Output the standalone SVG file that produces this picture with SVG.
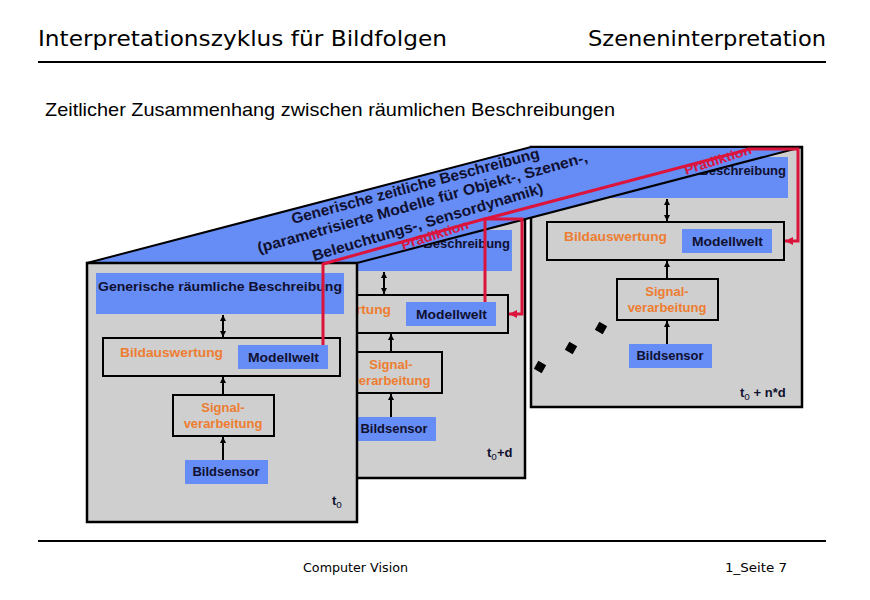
<svg xmlns="http://www.w3.org/2000/svg" width="870" height="600" viewBox="0 0 870 600">
<defs>
<style>
.panel{fill:#cfcfcf;stroke:#000;stroke-width:2.5}
.blue{fill:#668cf5}
.box{fill:#cfcfcf;stroke:#000;stroke-width:2}
.lbl{font-family:"Liberation Sans",Arial,sans-serif;font-weight:bold;font-size:13px;fill:#101030}
.or{fill:#ee7d31}
.band{fill:#668cf5;stroke:#000;stroke-width:2;stroke-linejoin:miter}
.bandtxt{font-family:"Liberation Sans",Arial,sans-serif;font-weight:bold;font-size:15px;fill:#101030}
.arr{stroke:#000;stroke-width:2;fill:none}
.red{stroke:#dc143c;stroke-width:3;fill:none;stroke-linejoin:miter}
.pred{font-family:"Liberation Sans",Arial,sans-serif;font-weight:bold;font-size:13px;fill:#dc143c}
.hdr{font-family:"DejaVu Sans",sans-serif;font-size:22px;fill:#000}
.ftr{font-family:"DejaVu Sans",sans-serif;font-size:13px;fill:#000}
.sub{font-size:10px;font-weight:normal}
</style>
<marker id="ah" viewBox="0 0 6 6" markerWidth="6" markerHeight="6" refX="6" refY="3" orient="auto-start-reverse" markerUnits="userSpaceOnUse">
<path d="M0,0 L6,3 L0,6 z" fill="#000"/>
</marker>
<marker id="rh" viewBox="0 0 8 8" markerWidth="8" markerHeight="8" refX="8" refY="4" orient="auto" markerUnits="userSpaceOnUse">
<path d="M0,0 L8,4 L0,8 z" fill="#dc143c"/>
</marker>
</defs>
<rect x="0" y="0" width="870" height="600" fill="#fff"/>

<g id="header">
<text class="hdr" x="38" y="46" textLength="409" lengthAdjust="spacingAndGlyphs">Interpretationszyklus für Bildfolgen</text>
<text class="hdr" x="588" y="46" textLength="238" lengthAdjust="spacingAndGlyphs">Szeneninterpretation</text>
<line x1="38" y1="62" x2="826" y2="62" stroke="#000" stroke-width="2"/>
<text x="45" y="116" font-family="Liberation Sans, Arial, sans-serif" font-size="19" textLength="570" lengthAdjust="spacingAndGlyphs">Zeitlicher Zusammenhang zwischen räumlichen Beschreibungen</text>
</g>

<!-- panel 3 (t0 + n*d) -->
<g id="panel3" transform="translate(531,147)">
<rect class="panel" x="0" y="0" width="271" height="260"/>
<g id="p3-desc"><rect class="blue" x="9" y="10" width="248" height="41"/><text class="lbl" x="255" y="28" text-anchor="end">Beschreibung</text></g>
<g id="p3-eval"><rect class="box" x="16" y="75" width="237" height="38"/><text class="lbl or" x="33" y="94" textLength="103" lengthAdjust="spacingAndGlyphs">Bildauswertung</text><rect class="blue" x="151" y="82" width="90" height="24"/><text class="lbl" x="161" y="99" textLength="71" lengthAdjust="spacingAndGlyphs">Modellwelt</text></g>
<g id="p3-signal"><rect class="box" x="86" y="132" width="101" height="41"/><text class="lbl or" x="136" y="149" text-anchor="middle">Signal-</text><text class="lbl or" x="136" y="165" text-anchor="middle">verarbeitung</text></g>
<g id="p3-sensor"><rect class="blue" x="98" y="197" width="83" height="24"/><text class="lbl" x="139" y="213" text-anchor="middle">Bildsensor</text></g>
<g id="p3-time"><text class="lbl" x="209" y="250">t<tspan class="sub" dy="3">o</tspan><tspan dy="-3"> + n*d</tspan></text></g>
</g>

<!-- panel 2 (t0+d) -->
<g id="panel2" transform="translate(255,220)">
<rect class="panel" x="0" y="0" width="270" height="258"/>
<g id="p2-desc"><rect class="blue" x="9" y="10" width="248" height="41"/><text class="lbl" x="255" y="28" text-anchor="end">Beschreibung</text></g>
<g id="p2-eval"><rect class="box" x="16" y="75" width="237" height="38"/><text class="lbl or" x="33" y="94" textLength="103" lengthAdjust="spacingAndGlyphs">Bildauswertung</text><rect class="blue" x="151" y="82" width="90" height="24"/><text class="lbl" x="161" y="99" textLength="71" lengthAdjust="spacingAndGlyphs">Modellwelt</text></g>
<g id="p2-signal"><rect class="box" x="86" y="132" width="101" height="41"/><text class="lbl or" x="136" y="149" text-anchor="middle">Signal-</text><text class="lbl or" x="136" y="165" text-anchor="middle">verarbeitung</text></g>
<g id="p2-sensor"><rect class="blue" x="98" y="197" width="83" height="24"/><text class="lbl" x="139" y="213" text-anchor="middle">Bildsensor</text></g>
<g id="p2-time"><text class="lbl" x="232" y="237">t<tspan class="sub" dy="3">o</tspan><tspan dy="-3">+d</tspan></text></g>
</g>

<!-- temporal band -->
<g id="temporal-band">
<polygon class="band" points="87,263 531,147 802,147 357,263"/>
<text class="bandtxt" x="293" y="224" transform="rotate(-15 293 224)" textLength="256" lengthAdjust="spacingAndGlyphs">Generische zeitliche Beschreibung</text>
<text class="bandtxt" x="259" y="253" transform="rotate(-15.5 259 253)" textLength="342" lengthAdjust="spacingAndGlyphs">(parametrisierte Modelle für Objekt-, Szenen-,</text>
<text class="bandtxt" x="314" y="261" transform="rotate(-16.5 314 261)" textLength="240" lengthAdjust="spacingAndGlyphs">Beleuchtungs-, Sensordynamik)</text>
</g>

<!-- panel 1 (t0) -->
<g id="panel1" transform="translate(87,263)">
<rect class="panel" x="0" y="0" width="270" height="259"/>
<g id="p1-desc"><rect class="blue" x="9" y="10" width="248" height="41"/><text class="lbl" x="11" y="28" textLength="244" lengthAdjust="spacingAndGlyphs">Generische räumliche Beschreibung</text></g>
<g id="p1-eval"><rect class="box" x="16" y="75" width="237" height="38"/><text class="lbl or" x="33" y="94" textLength="103" lengthAdjust="spacingAndGlyphs">Bildauswertung</text><rect class="blue" x="151" y="82" width="90" height="24"/><text class="lbl" x="161" y="99" textLength="71" lengthAdjust="spacingAndGlyphs">Modellwelt</text></g>
<g id="p1-signal"><rect class="box" x="86" y="132" width="101" height="41"/><text class="lbl or" x="136" y="149" text-anchor="middle">Signal-</text><text class="lbl or" x="136" y="165" text-anchor="middle">verarbeitung</text></g>
<g id="p1-sensor"><rect class="blue" x="98" y="197" width="83" height="24"/><text class="lbl" x="139" y="213" text-anchor="middle">Bildsensor</text></g>
<g id="p1-time"><text class="lbl" x="245" y="242">t<tspan class="sub" dy="3">o</tspan></text></g>
</g>

<!-- connectors -->
<g id="connectors">
<g transform="translate(87,263)">
<line class="arr" x1="136" y1="52" x2="136" y2="74" marker-start="url(#ah)" marker-end="url(#ah)"/>
<line class="arr" x1="136" y1="132" x2="136" y2="114" marker-end="url(#ah)"/>
<line class="arr" x1="136" y1="197" x2="136" y2="174" marker-end="url(#ah)"/>
</g>
<g transform="translate(255,220)">
<line class="arr" x1="129" y1="52" x2="129" y2="74" marker-start="url(#ah)" marker-end="url(#ah)"/>
<line class="arr" x1="136" y1="132" x2="136" y2="114" marker-end="url(#ah)"/>
<line class="arr" x1="136" y1="197" x2="136" y2="174" marker-end="url(#ah)"/>
</g>
<g transform="translate(531,147)">
<line class="arr" x1="136" y1="52" x2="136" y2="74" marker-start="url(#ah)" marker-end="url(#ah)"/>
<line class="arr" x1="136" y1="132" x2="136" y2="114" marker-end="url(#ah)"/>
<line class="arr" x1="136" y1="197" x2="136" y2="174" marker-end="url(#ah)"/>
</g>
<path class="red" d="M323,345 V264 L484,219 H522 V314 H509" marker-end="url(#rh)"/>
<path class="red" d="M485,302 V219 L750,149 H798 V241 H785" marker-end="url(#rh)"/>
<text class="pred" x="403" y="250" transform="rotate(-18 403 250)" textLength="70" lengthAdjust="spacingAndGlyphs">Prädiktion</text>
<text class="pred" x="686" y="175" transform="rotate(-18 686 175)" textLength="70" lengthAdjust="spacingAndGlyphs">Prädiktion</text>
</g>

<g id="ellipsis" fill="#000">
<rect x="-4.5" y="-4.5" width="9" height="9" transform="translate(540,367) rotate(30)"/>
<rect x="-4.5" y="-4.5" width="9" height="9" transform="translate(571,348) rotate(30)"/>
<rect x="-4.5" y="-4.5" width="9" height="9" transform="translate(601,328) rotate(30)"/>
</g>

<g id="footer">
<line x1="38" y1="541" x2="826" y2="541" stroke="#000" stroke-width="2"/>
<text class="ftr" x="303" y="572" textLength="105" lengthAdjust="spacingAndGlyphs">Computer Vision</text>
<text class="ftr" x="725" y="572" textLength="62" lengthAdjust="spacingAndGlyphs">1_Seite 7</text>
</g>
</svg>
